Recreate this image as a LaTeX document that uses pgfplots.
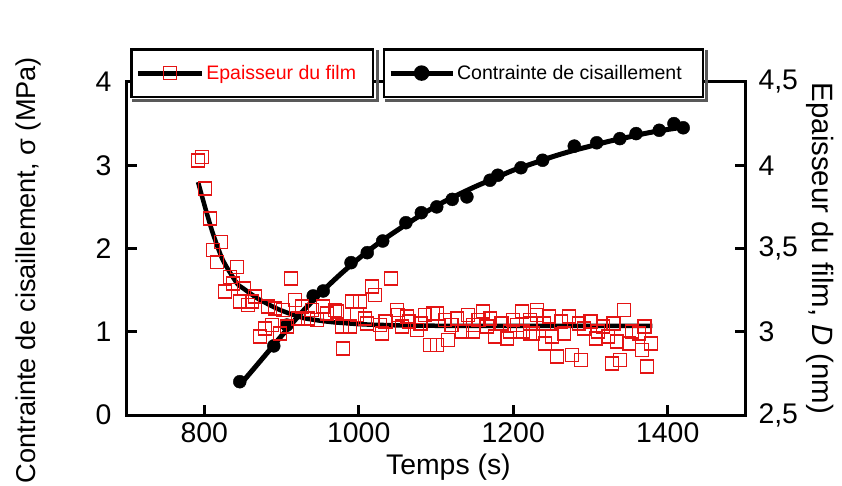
\documentclass[border=0pt]{standalone}
\usepackage{fontspec}
\setmainfont{Liberation Sans}
\usepackage{pgfplots}
\pgfplotsset{compat=1.18}
\definecolor{sqred}{RGB}{228,20,20}

\pgfplotstableread{
t sigma
846 0.40
890 0.83
907 1.08
941 1.43
954 1.49
990 1.83
1011 1.95
1031 2.09
1061 2.31
1081 2.43
1101 2.50
1121 2.59
1140 2.62
1170 2.82
1180 2.88
1210 2.97
1238 3.06
1279 3.23
1308 3.27
1338 3.32
1359 3.38
1389 3.42
1408 3.50
1420 3.45
}\stress

\pgfplotstableread{
t sigma
848 0.38
870 0.62
900 0.95
925 1.22
950 1.46
975 1.68
1000 1.88
1025 2.06
1050 2.22
1075 2.37
1100 2.51
1125 2.63
1150 2.74
1175 2.84
1200 2.94
1225 3.02
1250 3.10
1275 3.17
1300 3.23
1325 3.29
1350 3.34
1375 3.39
1400 3.43
1422 3.46
}\stressfit

\pgfplotstableread{
t D
792 3.899
801 3.749
811 3.593
824 3.431
842 3.293
850 3.262
868 3.203
880 3.172
898 3.131
928 3.083
963 3.059
1000 3.046
1028 3.041
1100 3.036
1380 3.035
}\epfit

\pgfplotstableread{
t D
791.9 4.03
797.1 4.05
801.0 3.86
807.4 3.68
821.7 3.54
811.3 3.49
816.5 3.42
842.4 3.39
833.3 3.33
826.9 3.24
837.2 3.29
851.5 3.26
846.3 3.18
856.6 3.16
865.7 3.21
861.8 3.18
912.3 3.32
882.5 3.15
891.6 3.14
901.9 3.13
917.5 3.19
926.5 3.15
939.5 3.13
953.7 3.15
958.9 3.11
969.3 3.13
934.3 3.08
946.0 3.07
921.4 3.08
872.2 2.97
878.6 3.02
887.7 3.04
898.1 2.99
907.1 3.03
979.6 2.90
1041.7 3.32
1017.2 3.27
1021.0 3.22
991.3 3.18
1001.6 3.18
971.8 3.12
997.7 3.10
1008.1 3.08
1010.7 3.05
978.3 3.03
988.7 3.03
1027.5 3.04
1030.1 2.99
1049.5 3.13
1050.8 3.10
1062.5 3.09
1056.0 3.03
1075.4 3.01
1085.8 3.10
1096.1 3.11
1092.2 2.92
1101.3 3.11
1111.7 3.07
1127.2 3.08
1141.4 3.10
1160.8 3.12
1169.9 3.08
1199.7 3.07
1211.3 3.12
1221.7 3.07
1230.7 3.10
1115.5 2.95
1133.7 3.00
1147.9 3.00
1176.4 2.97
1191.9 2.96
1195.8 3.00
1212.6 3.00
1221.7 2.99
1101.3 2.92
1147.9 3.04
1166.0 3.03
1230.7 3.13
1246.3 3.09
1272.2 3.09
1261.8 3.06
1343.4 3.13
1225.6 2.99
1250.2 2.97
1265.7 2.99
1291.6 3.02
1309.7 3.00
1316.2 3.03
1322.7 2.97
1353.7 3.00
1362.8 2.99
1307.1 2.96
1334.3 2.94
1349.8 2.93
1366.7 2.89
1378.3 2.93
1241.1 2.93
1256.6 2.85
1276.0 2.86
1287.7 2.83
1327.8 2.81
1338.2 2.83
1373.1 2.79
1221.7 3.05
1065 3.06
1035 3.06
1120 3.04
1185 3.05
1205 3.04
1240 3.05
1285 3.05
1300 3.06
1330 3.05
1370 3.03
1155 3.07
1080 3.05
}\epaisseur

\pgfplotsset{
  base/.style={
    scale only axis, width=618bp, height=333bp,
    xmin=700, xmax=1500,
    /pgf/number format/assume math mode=true,
    /pgf/number format/1000 sep={},
    tick label style={font=\fontsize{28.5}{32}\selectfont},
    label style={font=\fontsize{28.5}{32}\selectfont},
    axis line style={line width=3bp},
    major tick style={line width=3bp, black},
    major tick length=10bp,
    tick align=inside,
  },
  boxleg/.style={
    legend style={
      draw=black, line width=2.5bp, fill=white,
      font=\fontsize{19.6}{23}\selectfont,
      inner xsep=4bp, inner ysep=14bp,
      anchor=north west, legend cell align=left,
    },
  },
}

\begin{document}
\begin{tikzpicture}
\begin{axis}[base, boxleg, name=A,
    ymin=0, ymax=4,
    xtick={800,1000,1200,1400}, ytick={0,1,2,3,4},
    xtick pos=left, ytick pos=left,
    xticklabel style={yshift=-4bp},
    yticklabel style={xshift=-12bp},
    xlabel={Temps (s)},
    ylabel={Contrainte de cisaillement, σ (MPa)},
    xlabel style={at={(axis description cs:0.52,-0.157)}, anchor=center},
    ylabel style={at={(axis description cs:-0.16,0.435)}, anchor=center,
                  font=\fontsize{27.3}{31}\selectfont},
    legend style={name=legA, at={(axis description cs:0.414,1.102)}},
  ]
  \addplot[black, line width=5bp, no marks, smooth, forget plot] table[x=t, y=sigma] {\stressfit};
  \addplot[only marks, mark=*, mark size=6.5bp, black, forget plot] table[x=t, y=sigma] {\stress};
  \addlegendimage{legend image code/.code={
    \draw[black, line width=5bp] (0bp,0bp) -- (62bp,0bp);
    \fill[black] (31bp,0bp) circle (6.5bp);}}
  \addlegendentry{Contrainte de cisaillement\rule{15bp}{0pt}}
\end{axis}
\begin{axis}[base, boxleg,
    ymin=2.5, ymax=4.5,
    axis x line=none, axis y line*=right,
    ytick={2.5,3,3.5,4,4.5},
    /pgf/number format/use comma,
    yticklabel style={xshift=10bp},
    ylabel={Epaisseur du film, \textit{D} (nm)},
    ylabel style={at={(axis description cs:1.121,0.5)}, anchor=center, rotate=180,
                  font=\fontsize{29.5}{33}\selectfont},
    legend style={name=legB, at={(axis description cs:0.005,1.102)}},
  ]
  \addplot[black, line width=4.5bp, no marks, smooth, tension=0.4, forget plot] table[x=t, y=D] {\epfit};
  \addplot[only marks, mark=square, mark size=6.5bp, mark options={sqred, line width=1.6bp}, forget plot] table[x=t, y=D] {\epaisseur};
  \addlegendimage{legend image code/.code={
    \draw[black, line width=5bp] (0bp,0bp) -- (64bp,0bp);
    \draw[sqred, line width=1.3bp] (25.5bp,-6.5bp) rectangle (38.5bp,6.5bp);}}
  \addlegendentry{\textcolor{red}{Epaisseur du film}\rule{11bp}{0pt}}
\end{axis}
% shadows of the two legend boxes
\foreach \L in {legA,legB}{
  \fill[black!65] ([xshift=2bp,yshift=-1.25bp]\L.south west) rectangle ([xshift=4.25bp,yshift=-4.25bp]\L.south east);
  \fill[black!65] ([xshift=1.25bp,yshift=-2bp]\L.north east) rectangle ([xshift=4.25bp,yshift=-4.25bp]\L.south east);
}
\pgfresetboundingbox
\path[use as bounding box] (A.south west) ++(-127bp,-71bp) rectangle ++(842bp,486bp);
\end{tikzpicture}
\end{document}
